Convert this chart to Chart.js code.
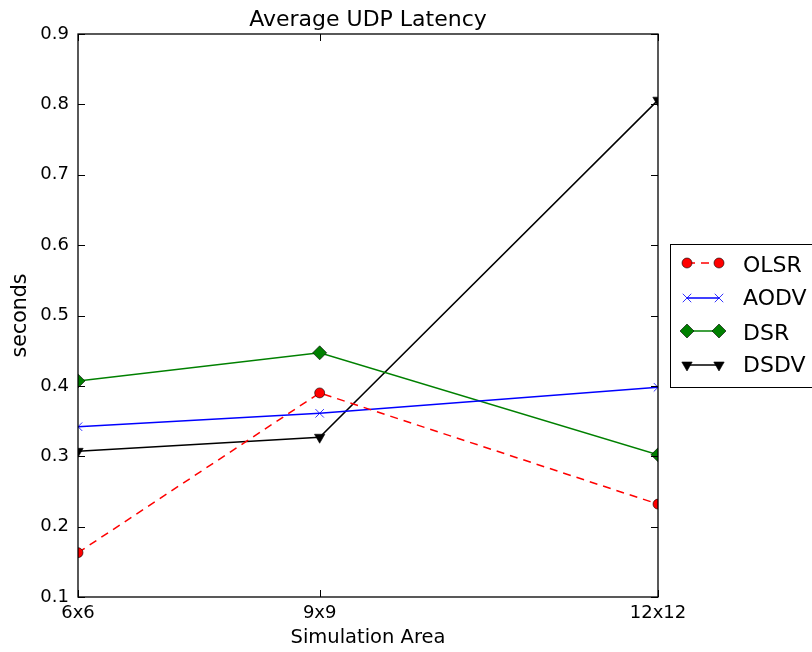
<!DOCTYPE html>
<html>
<head>
<meta charset="utf-8">
<title>Average UDP Latency</title>
<script src="https://cdn.jsdelivr.net/npm/chart.js@4.4.1/dist/chart.umd.min.js"></script>
<style>
  html, body { margin: 0; padding: 0; background: #fff; }
  #wrap { width: 812px; height: 652px; }
</style>
</head>
<body>
<div id="wrap"><canvas id="latencyChart" width="812" height="652"></canvas></div>
<script>
// data
const areaLabels = ['6x6', '9x9', '12x12'];
const areaValues = [36, 81, 144];          // x position = area in square units
const yTicks = [0.1, 0.2, 0.3, 0.4, 0.5, 0.6, 0.7, 0.8, 0.9];

const olsrLatency = [0.163, 0.390, 0.232];
const aodvLatency = [0.342, 0.361, 0.398];
const dsrLatency  = [0.407, 0.447, 0.302];
const dsdvLatency = [0.307, 0.327, 0.806];

const chartTitle = 'Average UDP Latency';
const FONT = "'DejaVu Sans', sans-serif";

function toPoints(values) {
    return values.map((v, i) => ({ x: areaValues[i], y: v }));
}

// matplotlib style frame with inward ticks on all four sides
const frameTicks = {
    id: 'frameTicks',
    afterDatasetsDraw(chart) {
        const { ctx, chartArea: a, scales } = chart;
        ctx.save();
        ctx.strokeStyle = '#000';
        ctx.lineWidth = 1;
        const len = 7;
        ctx.beginPath();
        yTicks.forEach(v => {
            const y = Math.round(scales.y.getPixelForValue(v)) + 0.5;
            ctx.moveTo(a.left, y); ctx.lineTo(a.left + len, y);
            ctx.moveTo(a.right, y); ctx.lineTo(a.right - len, y);
        });
        areaValues.forEach(v => {
            const x = Math.round(scales.x.getPixelForValue(v)) + 0.5;
            ctx.moveTo(x, a.bottom); ctx.lineTo(x, a.bottom - len);
            ctx.moveTo(x, a.top); ctx.lineTo(x, a.top + len);
        });
        ctx.stroke();
        ctx.lineWidth = 1.3;
        ctx.strokeRect(a.left, a.top, a.right - a.left, a.bottom - a.top);

        // title centred over the axes, not the whole canvas
        ctx.fillStyle = '#000';
        ctx.font = '22px ' + FONT;
        ctx.textAlign = 'center';
        ctx.textBaseline = 'alphabetic';
        ctx.fillText(chartTitle, (a.left + a.right) / 2, 26);
        ctx.restore();
    }
};

// legend box sitting outside the axes, cut off by the right edge
const sideLegend = {
    id: 'sideLegend',
    afterDraw(chart) {
        const ctx = chart.ctx;
        const box = { x: 670.5, y: 244.5, w: 200, h: 143 };
        const rows = [263, 298, 331, 365];
        const baselines = [271.5, 305, 339.5, 372];
        ctx.save();
        ctx.fillStyle = '#fff';
        ctx.fillRect(box.x, box.y, box.w, box.h);
        ctx.strokeStyle = '#000';
        ctx.lineWidth = 1;
        ctx.strokeRect(box.x, box.y, box.w, box.h);
        chart.data.datasets.forEach((ds, i) => {
            const y = rows[i];
            const x1 = 687, x2 = 719;
            ctx.save();
            ctx.strokeStyle = ds.borderColor;
            ctx.lineWidth = ds.borderWidth;
            ctx.setLineDash(ds.borderDash || []);
            ctx.beginPath();
            ctx.moveTo(x1, y); ctx.lineTo(x2, y);
            ctx.stroke();
            ctx.restore();
            [x1, x2].forEach(x => {
                ctx.save();
                ctx.fillStyle = ds.pointBackgroundColor;
                ctx.strokeStyle = ds.pointBorderColor;
                ctx.lineWidth = ds.pointBorderWidth;
                Chart.helpers.drawPoint(ctx, {
                    pointStyle: ds.pointStyle,
                    radius: ds.pointRadius,
                    rotation: ds.pointRotation || 0,
                    borderWidth: ds.pointBorderWidth
                }, x, y);
                ctx.restore();
            });
            ctx.fillStyle = '#000';
            ctx.font = '22px ' + FONT;
            ctx.textBaseline = 'alphabetic';
            ctx.textAlign = 'left';
            ctx.fillText(ds.label, 743, baselines[i]);
        });
        ctx.restore();
    }
};

const chart = new Chart(document.getElementById('latencyChart'), {
    type: 'line',
    data: {
        datasets: [
            {
                label: 'OLSR',
                data: toPoints(olsrLatency),
                borderColor: '#ff0000',
                borderWidth: 1.5,
                borderDash: [8, 6],
                pointStyle: 'circle',
                pointRadius: 5,
                pointBackgroundColor: '#ff0000',
                pointBorderColor: '#000',
                pointBorderWidth: 0.6
            },
            {
                label: 'AODV',
                data: toPoints(aodvLatency),
                borderColor: '#0000ff',
                borderWidth: 1.5,
                pointStyle: 'crossRot',
                pointRadius: 6,
                pointBackgroundColor: '#0000ff',
                pointBorderColor: '#0000ff',
                pointBorderWidth: 0.8
            },
            {
                label: 'DSR',
                data: toPoints(dsrLatency),
                borderColor: '#008000',
                borderWidth: 1.5,
                pointStyle: 'rectRot',
                pointRadius: 7,
                pointBackgroundColor: '#008000',
                pointBorderColor: '#000',
                pointBorderWidth: 0.6
            },
            {
                label: 'DSDV',
                data: toPoints(dsdvLatency),
                borderColor: '#000000',
                borderWidth: 1.5,
                pointStyle: 'triangle',
                pointRotation: 180,
                pointRadius: 6,
                pointBackgroundColor: '#000',
                pointBorderColor: '#000',
                pointBorderWidth: 0.6
            }
        ]
    },
    options: {
        responsive: false,
        animation: false,
        devicePixelRatio: 1,
        clip: 0,
        elements: { line: { tension: 0, fill: false } },
        layout: { padding: { left: 0, right: 154, top: 34, bottom: 0 } },
        scales: {
            x: {
                type: 'linear',
                min: 36,
                max: 144,
                afterBuildTicks(scale) {
                    scale.ticks = areaValues.map(v => ({ value: v }));
                },
                afterFit(scale) { scale.height = 55; },
                grid: { display: false, drawTicks: false },
                border: { display: false },
                ticks: {
                    autoSkip: false,
                    maxRotation: 0,
                    padding: 6,
                    color: '#000',
                    font: { family: FONT, size: 18 },
                    callback(value) {
                        const i = areaValues.indexOf(value);
                        return i >= 0 ? areaLabels[i] : '';
                    }
                },
                title: {
                    display: true,
                    text: 'Simulation Area',
                    color: '#000',
                    font: { family: FONT, size: 19.5 },
                    padding: { top: 0, bottom: 2 }
                }
            },
            y: {
                min: 0.1,
                max: 0.9,
                afterBuildTicks(scale) {
                    scale.ticks = yTicks.map(v => ({ value: v }));
                },
                afterFit(scale) { scale.width = 78; },
                grid: { display: false, drawTicks: false },
                border: { display: false },
                ticks: {
                    padding: 9,
                    color: '#000',
                    font: { family: FONT, size: 18 },
                    callback: v => Number(v).toFixed(1)
                },
                title: {
                    display: true,
                    text: 'seconds',
                    color: '#000',
                    font: { family: FONT, size: 20.5 },
                    padding: { top: 8, bottom: 0 }
                }
            }
        },
        plugins: {
            legend: { display: false },
            tooltip: { enabled: false },
            title: { display: false }
        }
    },
    plugins: [frameTicks, sideLegend]
});
</script>
</body>
</html>
